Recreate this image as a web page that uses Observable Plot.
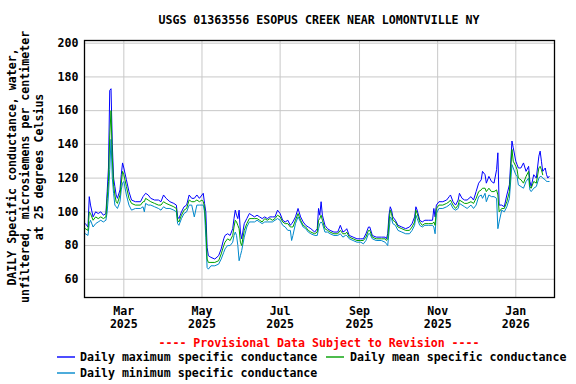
<!DOCTYPE html>
<html>
<head>
<meta charset="utf-8">
<script src="https://cdn.jsdelivr.net/npm/d3@7"></script>
<script src="https://cdn.jsdelivr.net/npm/@observablehq/plot@0.6"></script>
<style>
  html, body { margin: 0; padding: 0; background: #fff; }
  #wrap { position: relative; width: 576px; height: 384px; background: #fff; overflow: hidden;
          font-family: "DejaVu Sans Mono", monospace; font-weight: bold; font-size: 11.6px; color: #000; }
  #chart { position: absolute; left: 0; top: 0; }
  #legend { position: absolute; left: 0; top: 330px; }
  .t { position: absolute; white-space: pre; line-height: 14px; }
</style>
</head>
<body>
<div id="wrap">
  <div id="chart"></div>
  <div class="t" id="title" style="left:84px; width:470px; top:13px; text-align:center;"></div>
  <div class="t" id="ylab" style="left:-124px; width:300px; top:147px; text-align:center; line-height:13.3px; font-size:11.6px; transform: rotate(-90deg);"></div>
  <svg id="legend" width="576" height="54"></svg>
</div>
<script>
// ---- Text ----
const titleText = "USGS 01363556 ESOPUS CREEK NEAR LOMONTVILLE NY";
const yLabelLines = ["DAILY Specific conductance, water,", "unfiltered, microsiemens per centimeter", "at 25 degrees Celsius"];
const provisionalText = "---- Provisional Data Subject to Revision ----";
const seriesNames = ["Daily maximum specific conductance", "Daily mean specific conductance", "Daily minimum specific conductance"];
const seriesColors = ["#0000ff", "#00a000", "#0088cc"];

// ---- Axis ticks ----
const xTickDates = ["2025-03-01", "2025-05-01", "2025-07-01", "2025-09-01", "2025-11-01", "2026-01-01"];
const xTickLabels = ["Mar\n2025", "May\n2025", "Jul\n2025", "Sep\n2025", "Nov\n2025", "Jan\n2026"];
const yTicks = [60, 80, 100, 120, 140, 160, 180, 200];

// ---- Data ----
const dates = [
"2025-01-30","2025-02-01","2025-02-02","2025-02-03","2025-02-05","2025-02-07","2025-02-09","2025-02-11","2025-02-13","2025-02-15",
"2025-02-16","2025-02-17","2025-02-18","2025-02-19","2025-02-20","2025-02-21","2025-02-22","2025-02-23","2025-02-24","2025-02-26",
"2025-02-27","2025-02-28","2025-03-01","2025-03-03","2025-03-05","2025-03-07","2025-03-10","2025-03-14","2025-03-16","2025-03-17",
"2025-03-18","2025-03-20","2025-03-22","2025-03-25","2025-03-28","2025-03-30","2025-04-01","2025-04-03","2025-04-06","2025-04-09",
"2025-04-11","2025-04-12","2025-04-13","2025-04-15","2025-04-17","2025-04-19","2025-04-21","2025-04-23","2025-04-25","2025-04-27",
"2025-04-29","2025-05-01","2025-05-02","2025-05-03","2025-05-04","2025-05-05","2025-05-06","2025-05-08","2025-05-11","2025-05-14",
"2025-05-16","2025-05-18","2025-05-19","2025-05-21","2025-05-23","2025-05-25","2025-05-26","2025-05-27","2025-05-28","2025-05-29",
"2025-05-30","2025-05-31","2025-06-01","2025-06-03","2025-06-05","2025-06-07","2025-06-09","2025-06-11","2025-06-13","2025-06-15",
"2025-06-17","2025-06-19","2025-06-21","2025-06-23","2025-06-25","2025-06-27","2025-06-29","2025-07-01","2025-07-03","2025-07-05",
"2025-07-07","2025-07-09","2025-07-10","2025-07-11","2025-07-13","2025-07-15","2025-07-17","2025-07-19","2025-07-21","2025-07-23",
"2025-07-25","2025-07-28","2025-07-30","2025-07-31","2025-08-01","2025-08-02","2025-08-03","2025-08-05","2025-08-07","2025-08-09",
"2025-08-12","2025-08-15","2025-08-17","2025-08-19","2025-08-21","2025-08-22","2025-08-24","2025-08-27","2025-08-30","2025-09-02",
"2025-09-04","2025-09-06","2025-09-08","2025-09-09","2025-09-11","2025-09-14","2025-09-18","2025-09-21","2025-09-22","2025-09-23",
"2025-09-24","2025-09-25","2025-09-26","2025-09-27","2025-09-29","2025-10-01","2025-10-04","2025-10-07","2025-10-10","2025-10-12",
"2025-10-14","2025-10-15","2025-10-16","2025-10-18","2025-10-20","2025-10-22","2025-10-25","2025-10-28","2025-10-29","2025-10-30",
"2025-10-31","2025-11-02","2025-11-05","2025-11-08","2025-11-10","2025-11-11","2025-11-13","2025-11-15","2025-11-17","2025-11-18",
"2025-11-20","2025-11-22","2025-11-24","2025-11-27","2025-11-29","2025-12-01","2025-12-03","2025-12-05","2025-12-06","2025-12-08",
"2025-12-09","2025-12-11","2025-12-13","2025-12-15","2025-12-17","2025-12-18","2025-12-19","2025-12-21","2025-12-23","2025-12-25",
"2025-12-27","2025-12-29","2025-12-30","2026-01-01","2026-01-02","2026-01-03","2026-01-05","2026-01-07","2026-01-09","2026-01-11",
"2026-01-12","2026-01-13","2026-01-15","2026-01-17","2026-01-19","2026-01-20","2026-01-21","2026-01-22","2026-01-24","2026-01-25",
"2026-01-26","2026-01-27"
];
const maxSC = [
93,91,109,104,97,100,99,100,98,99,
112,126,172,173,140,120,115,110,108,113,
122,129,126,119,112,107,106,106,109,110,
111,110,108,107,107,106,110,108,106,105,
104,97,96,100,103,104,110,108,108,110,
108,110,111,105,100,79,74,73,72,74,
78,84,86,87,86,90,96,101,98,96,
101,88,84,93,96,99,98,97,98,97,
96,97,96,97,97,97,101,99,95,94,
95,92,93,94,97,102,97,94,92,91,
90,88,90,102,98,106,98,92,90,89,
88,88,92,88,89,90,86,85,84,84,
84,87,91,91,86,85,85,85,84,87,
98,103,101,97,95,92,91,90,91,93,
97,103,101,95,94,95,95,95,102,97,
104,106,106,107,109,110,106,104,107,111,
108,107,107,109,107,112,117,119,124,122,
117,121,118,117,125,135,104,104,103,110,
116,142,138,130,128,126,126,129,124,127,
118,115,122,120,133,136,130,124,126,122,
120,121
];
const meanSC = [
90,89,100,99,95,97,96,97,96,97,
108,118,145,160,132,116,110,106,105,110,
117,124,122,115,108,105,104,104,106,106,
108,107,106,105,104,104,106,105,104,103,
102,95,94,98,101,102,107,106,106,107,
106,107,106,103,92,72,70,70,70,71,
75,80,82,84,83,86,91,95,94,92,
90,82,80,89,93,96,96,96,96,95,
94,96,95,96,95,96,98,97,94,93,
93,91,91,91,95,99,95,92,91,89,
88,87,88,95,96,98,95,90,89,88,
87,87,89,87,87,88,85,84,83,83,
83,85,89,89,85,84,84,84,83,84,
94,101,99,95,94,91,90,89,89,91,
94,101,99,94,92,93,93,93,94,92,
102,104,104,105,106,107,104,102,104,107,
106,105,105,106,105,108,112,113,114,114,
112,114,112,112,113,110,100,102,102,106,
112,137,130,127,125,120,119,117,121,124,
115,114,118,117,126,127,125,122,null,null,
null,null
];
const minSC = [
87,86,93,95,91,93,94,95,94,95,
100,110,125,143,120,111,104,103,102,106,
113,117,118,110,104,101,102,102,103,100,
105,104,104,103,102,101,103,102,102,101,
100,93,92,96,99,100,104,104,97,104,
104,104,104,100,85,67,66,68,68,69,
72,76,78,80,80,82,86,88,86,80,
71,74,77,85,91,94,94,94,95,94,
93,94,94,94,94,95,96,95,92,91,
89,89,83,86,93,97,94,91,90,88,
87,86,86,90,93,94,93,88,88,87,
86,86,87,85,86,86,84,83,82,82,
81,83,87,87,84,83,83,82,81,80,
88,97,96,93,92,89,88,87,87,89,
92,98,96,92,91,92,92,92,91,87,
99,102,102,103,104,105,102,101,102,105,
104,103,102,104,102,104,109,110,108,111,
106,110,109,109,108,90,94,101,100,103,
108,128,126,122,121,116,115,114,118,120,
113,112,114,115,120,121,121,120,119,118,
118,118
];

// ---- Build ----
const parse = d3.utcParse("%Y-%m-%d");
const rows = dates.map((d, i) => ({date: parse(d), max: maxSC[i], mean: meanSC[i], min: minSC[i]}));
const xTicks = xTickDates.map(parse);
const labelOf = new Map(xTicks.map((d, i) => [+d, xTickLabels[i]]));

const plot = Plot.plot({
  width: 576,
  height: 384,
  marginTop: 40,
  marginRight: 22,
  marginBottom: 87,
  marginLeft: 84,
  style: {fontFamily: "'DejaVu Sans Mono', monospace", fontWeight: "bold", fontSize: "11.6px", background: "white", color: "black", overflow: "visible"},
  x: {type: "utc", domain: [new Date(Date.UTC(2025, 0, 29, 7)), new Date(Date.UTC(2026, 0, 31, 5))]},
  y: {domain: [49.2, 201.6]},
  marks: [
    Plot.gridX(xTicks, {stroke: "#c8c8c8", strokeOpacity: 1, strokeWidth: 1}),
    Plot.gridY(yTicks, {stroke: "#c8c8c8", strokeOpacity: 1, strokeWidth: 1}),
    Plot.line(rows, {x: "date", y: "max", stroke: seriesColors[0], strokeWidth: 1}),
    Plot.line(rows, {x: "date", y: "min", stroke: seriesColors[2], strokeWidth: 1}),
    Plot.line(rows, {x: "date", y: "mean", stroke: seriesColors[1], strokeWidth: 1}),
    Plot.axisX(xTicks, {tickSize: 0, tickPadding: 8, label: null, lineHeight: 1.15, tickFormat: d => labelOf.get(+d)}),
    Plot.axisY(yTicks, {tickSize: 0, tickPadding: 6, label: null}),
    Plot.frame({stroke: "black", strokeWidth: 1.3})
  ]
});
document.getElementById("chart").appendChild(plot);

document.getElementById("title").textContent = titleText;
document.getElementById("ylab").textContent = yLabelLines.join("\n");

// Legend (SVG): provisional note + series entries
const lg = d3.select("#legend")
  .attr("font-family", "'DejaVu Sans Mono', monospace")
  .attr("font-weight", "bold")
  .attr("font-size", 11.6);
lg.append("text").attr("x", 319).attr("y", 13).attr("text-anchor", "middle")
  .attr("dominant-baseline", "central").attr("fill", "#ff0000").text(provisionalText);
const entries = [
  {sx: 57, tx: 80, y: 27},
  {sx: 326, tx: 350, y: 27},
  {sx: 57, tx: 80, y: 43}
];
entries.forEach((e, i) => {
  lg.append("line").attr("x1", e.sx).attr("x2", e.sx + 18).attr("y1", e.y).attr("y2", e.y)
    .attr("stroke", seriesColors[i]).attr("stroke-width", 1.4);
  lg.append("text").attr("x", e.tx).attr("y", e.y).attr("dominant-baseline", "central")
    .attr("fill", "#000").text(seriesNames[i]);
});
</script>
</body>
</html>
